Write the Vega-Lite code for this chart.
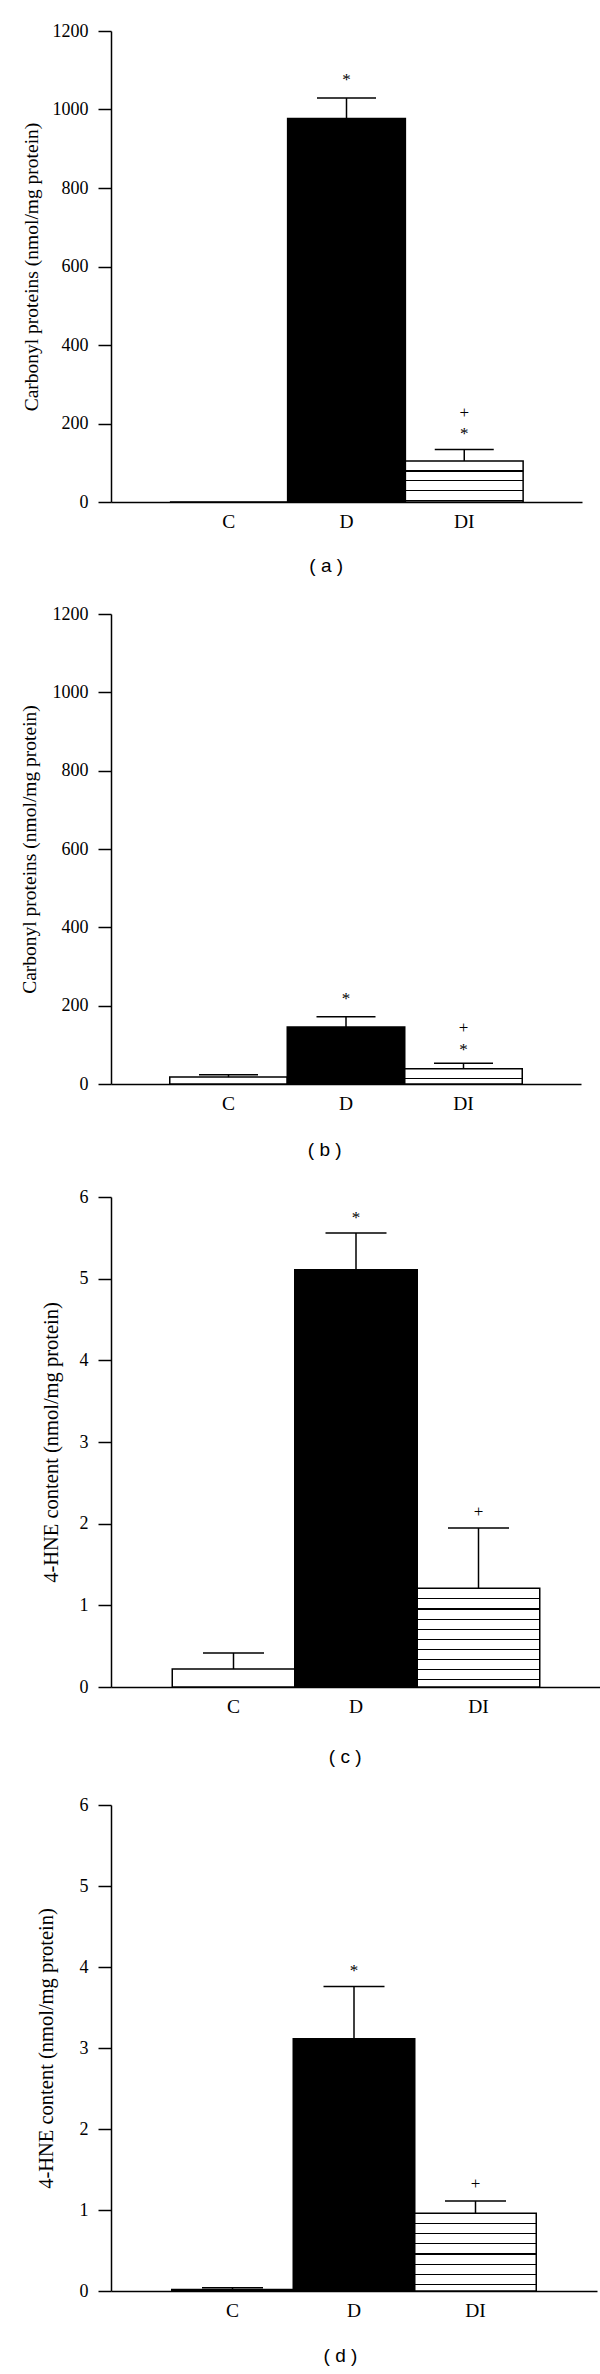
{
  "$schema": "https://vega.github.io/schema/vega-lite/v6.json",
  "padding": {"left": 19, "top": 22, "right": 20, "bottom": 4},
  "background": "white",
  "spacing": 29,
  "datasets": {
    "bars": [
      {"panel": "a", "group": "C", "value": 0, "upper": null},
      {"panel": "a", "group": "D", "value": 977, "upper": 1029},
      {"panel": "a", "group": "DI", "value": 104.5, "upper": 134},
      {"panel": "b", "group": "C", "value": 17.6, "upper": 23.5},
      {"panel": "b", "group": "D", "value": 145.6, "upper": 172},
      {"panel": "b", "group": "DI", "value": 39, "upper": 52.8},
      {"panel": "c", "group": "C", "value": 0.22, "upper": 0.417},
      {"panel": "c", "group": "D", "value": 5.11, "upper": 5.56},
      {"panel": "c", "group": "DI", "value": 1.21, "upper": 1.946},
      {"panel": "d", "group": "C", "value": 0.02, "upper": 0.04},
      {"panel": "d", "group": "D", "value": 3.115, "upper": 3.76},
      {"panel": "d", "group": "DI", "value": 0.96, "upper": 1.11}
    ],
    "marks": [
      {"panel": "a", "group": "D", "y": 1074, "sym": "*"},
      {"panel": "a", "group": "DI", "y": 228, "sym": "+"},
      {"panel": "a", "group": "DI", "y": 172, "sym": "*"},
      {"panel": "b", "group": "D", "y": 216, "sym": "*"},
      {"panel": "b", "group": "DI", "y": 142.5, "sym": "+"},
      {"panel": "b", "group": "DI", "y": 87, "sym": "*"},
      {"panel": "c", "group": "D", "y": 5.74, "sym": "*"},
      {"panel": "c", "group": "DI", "y": 2.137, "sym": "+"},
      {"panel": "d", "group": "D", "y": 3.956, "sym": "*"},
      {"panel": "d", "group": "DI", "y": 1.32, "sym": "+"}
    ]
  },
  "vconcat": [
    {
      "width": 471, "height": 471,
      "encoding": {
        "x": {"field": "group", "type": "nominal", "scale": {"domain": ["C", "D", "DI"], "paddingInner": 0, "paddingOuter": 0.5}, "axis": {"title": "( a )", "titleX": 214.7, "titlePadding": 26, "ticks": false, "labelAngle": 0, "labelPadding": 10, "labelFontSize": 19.5}}
      },
      "layer": [
        {
          "data": {"name": "bars"},
          "transform": [{"filter": "datum.panel === 'a' && datum.group !== 'DI'"}],
          "mark": {"type": "bar", "stroke": "black", "strokeWidth": 1.5},
          "encoding": {
            "y": {"field": "value", "type": "quantitative", "scale": {"domain": [0, 1200], "nice": false}, "axis": {"title": "Carbonyl proteins (nmol/mg protein)", "format": "d", "values": [0, 200, 400, 600, 800, 1000, 1200], "titlePadding": 10.8, "titleFontSize": 19.5}},
            "fill": {"condition": {"test": "datum.group === 'D'", "value": "black"}, "value": "white"}
          }
        },
        {
          "data": {"name": "bars"},
          "transform": [{"filter": "datum.panel === 'a' && datum.group === 'DI'"}],
          "mark": {"type": "bar", "stroke": "black", "strokeWidth": 1.5, "fill": {"gradient": "linear", "x1": 0, "y1": 0, "x2": 0, "y2": 1, "stops": [
            {"offset": 0, "color": "white"}, {"offset": 0.2276, "color": "white"}, {"offset": 0.2276, "color": "black"}, {"offset": 0.2567, "color": "black"}, {"offset": 0.2567, "color": "white"},
            {"offset": 0.4649, "color": "white"}, {"offset": 0.4649, "color": "black"}, {"offset": 0.4939, "color": "black"}, {"offset": 0.4939, "color": "white"},
            {"offset": 0.7022, "color": "white"}, {"offset": 0.7022, "color": "black"}, {"offset": 0.7312, "color": "black"}, {"offset": 0.7312, "color": "white"},
            {"offset": 0.9395, "color": "white"}, {"offset": 0.9395, "color": "black"}, {"offset": 0.9685, "color": "black"}, {"offset": 0.9685, "color": "white"},
            {"offset": 1, "color": "white"}]}},
          "encoding": {
            "y": {"field": "value", "type": "quantitative", "scale": {"domain": [0, 1200], "nice": false}, "axis": {"title": "Carbonyl proteins (nmol/mg protein)", "format": "d", "values": [0, 200, 400, 600, 800, 1000, 1200], "titlePadding": 10.8, "titleFontSize": 19.5}}
          }
        },
        {
          "data": {"name": "bars"},
          "transform": [{"filter": "datum.panel === 'a' && datum.upper != null"}],
          "mark": {"type": "rule", "strokeWidth": 1.5, "color": "black"},
          "encoding": {
            "y": {"field": "value", "type": "quantitative", "scale": {"domain": [0, 1200], "nice": false}, "axis": {"title": "Carbonyl proteins (nmol/mg protein)", "format": "d", "values": [0, 200, 400, 600, 800, 1000, 1200], "titlePadding": 10.8, "titleFontSize": 19.5}},
            "y2": {"field": "upper"}
          }
        },
        {
          "data": {"name": "bars"},
          "transform": [{"filter": "datum.panel === 'a' && datum.upper != null"}],
          "mark": {"type": "tick", "thickness": 1.5, "size": 59, "color": "black", "opacity": 1, "orient": "horizontal"},
          "encoding": {
            "y": {"field": "upper", "type": "quantitative", "scale": {"domain": [0, 1200], "nice": false}, "axis": {"title": "Carbonyl proteins (nmol/mg protein)", "format": "d", "values": [0, 200, 400, 600, 800, 1000, 1200], "titlePadding": 10.8, "titleFontSize": 19.5}}
          }
        },
        {
          "data": {"name": "marks"},
          "transform": [{"filter": "datum.panel === 'a'"}],
          "mark": {"type": "text", "font": "Liberation Serif", "fontSize": 17, "baseline": "middle", "align": "center", "color": "black"},
          "encoding": {
            "y": {"field": "y", "type": "quantitative", "scale": {"domain": [0, 1200], "nice": false}, "axis": {"title": "Carbonyl proteins (nmol/mg protein)", "format": "d", "values": [0, 200, 400, 600, 800, 1000, 1200], "titlePadding": 10.8, "titleFontSize": 19.5}},
            "text": {"field": "sym"}
          }
        }
      ]
    },
    {
      "width": 470, "height": 470,
      "encoding": {
        "x": {"field": "group", "type": "nominal", "scale": {"domain": ["C", "D", "DI"], "paddingInner": 0, "paddingOuter": 0.5}, "axis": {"title": "( b )", "titleX": 213.2, "titlePadding": 27.5, "ticks": false, "labelAngle": 0, "labelPadding": 10, "labelFontSize": 19.5}}
      },
      "layer": [
        {
          "data": {"name": "bars"},
          "transform": [{"filter": "datum.panel === 'b' && datum.group !== 'DI'"}],
          "mark": {"type": "bar", "stroke": "black", "strokeWidth": 1.5},
          "encoding": {
            "y": {"field": "value", "type": "quantitative", "scale": {"domain": [0, 1200], "nice": false}, "axis": {"title": "Carbonyl proteins (nmol/mg protein)", "format": "d", "values": [0, 200, 400, 600, 800, 1000, 1200], "titlePadding": 12.3, "titleFontSize": 19.5}},
            "fill": {"condition": {"test": "datum.group === 'D'", "value": "black"}, "value": "white"}
          }
        },
        {
          "data": {"name": "bars"},
          "transform": [{"filter": "datum.panel === 'b' && datum.group === 'DI'"}],
          "mark": {"type": "bar", "stroke": "black", "strokeWidth": 1.5, "fill": {"gradient": "linear", "x1": 0, "y1": 0, "x2": 0, "y2": 1, "stops": [
            {"offset": 0, "color": "white"}, {"offset": 0.5882, "color": "white"}, {"offset": 0.5882, "color": "black"}, {"offset": 0.6667, "color": "black"}, {"offset": 0.6667, "color": "white"},
            {"offset": 1, "color": "white"}]}},
          "encoding": {
            "y": {"field": "value", "type": "quantitative", "scale": {"domain": [0, 1200], "nice": false}, "axis": {"title": "Carbonyl proteins (nmol/mg protein)", "format": "d", "values": [0, 200, 400, 600, 800, 1000, 1200], "titlePadding": 12.3, "titleFontSize": 19.5}}
          }
        },
        {
          "data": {"name": "bars"},
          "transform": [{"filter": "datum.panel === 'b' && datum.upper != null"}],
          "mark": {"type": "rule", "strokeWidth": 1.5, "color": "black"},
          "encoding": {
            "y": {"field": "value", "type": "quantitative", "scale": {"domain": [0, 1200], "nice": false}, "axis": {"title": "Carbonyl proteins (nmol/mg protein)", "format": "d", "values": [0, 200, 400, 600, 800, 1000, 1200], "titlePadding": 12.3, "titleFontSize": 19.5}},
            "y2": {"field": "upper"}
          }
        },
        {
          "data": {"name": "bars"},
          "transform": [{"filter": "datum.panel === 'b' && datum.upper != null"}],
          "mark": {"type": "tick", "thickness": 1.5, "size": 59, "color": "black", "opacity": 1, "orient": "horizontal"},
          "encoding": {
            "y": {"field": "upper", "type": "quantitative", "scale": {"domain": [0, 1200], "nice": false}, "axis": {"title": "Carbonyl proteins (nmol/mg protein)", "format": "d", "values": [0, 200, 400, 600, 800, 1000, 1200], "titlePadding": 12.3, "titleFontSize": 19.5}}
          }
        },
        {
          "data": {"name": "marks"},
          "transform": [{"filter": "datum.panel === 'b'"}],
          "mark": {"type": "text", "font": "Liberation Serif", "fontSize": 17, "baseline": "middle", "align": "center", "color": "black"},
          "encoding": {
            "y": {"field": "y", "type": "quantitative", "scale": {"domain": [0, 1200], "nice": false}, "axis": {"title": "Carbonyl proteins (nmol/mg protein)", "format": "d", "values": [0, 200, 400, 600, 800, 1000, 1200], "titlePadding": 12.3, "titleFontSize": 19.5}},
            "text": {"field": "sym"}
          }
        }
      ]
    },
    {
      "width": 490, "height": 490,
      "encoding": {
        "x": {"field": "group", "type": "nominal", "scale": {"domain": ["C", "D", "DI"], "paddingInner": 0, "paddingOuter": 0.5}, "axis": {"title": "( c )", "titleX": 233.7, "titlePadding": 31.8, "ticks": false, "labelAngle": 0, "labelPadding": 10, "labelFontSize": 19.5}}
      },
      "layer": [
        {
          "data": {"name": "bars"},
          "transform": [{"filter": "datum.panel === 'c' && datum.group !== 'DI'"}],
          "mark": {"type": "bar", "stroke": "black", "strokeWidth": 1.5},
          "encoding": {
            "y": {"field": "value", "type": "quantitative", "scale": {"domain": [0, 6], "nice": false}, "axis": {"title": "4-HNE content (nmol/mg protein)", "values": [0, 1, 2, 3, 4, 5, 6], "titlePadding": 17.8, "titleFontSize": 20.5}},
            "fill": {"condition": {"test": "datum.group === 'D'", "value": "black"}, "value": "white"}
          }
        },
        {
          "data": {"name": "bars"},
          "transform": [{"filter": "datum.panel === 'c' && datum.group === 'DI'"}],
          "mark": {"type": "bar", "stroke": "black", "strokeWidth": 1.5, "fill": {"gradient": "linear", "x1": 0, "y1": 0, "x2": 0, "y2": 1, "stops": [
            {"offset": 0, "color": "white"},
            {"offset": 0.1022, "color": "white"}, {"offset": 0.1022, "color": "black"}, {"offset": 0.1144, "color": "black"}, {"offset": 0.1144, "color": "white"},
            {"offset": 0.2045, "color": "white"}, {"offset": 0.2045, "color": "black"}, {"offset": 0.2166, "color": "black"}, {"offset": 0.2166, "color": "white"},
            {"offset": 0.3077, "color": "white"}, {"offset": 0.3077, "color": "black"}, {"offset": 0.3198, "color": "black"}, {"offset": 0.3198, "color": "white"},
            {"offset": 0.4099, "color": "white"}, {"offset": 0.4099, "color": "black"}, {"offset": 0.4221, "color": "black"}, {"offset": 0.4221, "color": "white"},
            {"offset": 0.5121, "color": "white"}, {"offset": 0.5121, "color": "black"}, {"offset": 0.5243, "color": "black"}, {"offset": 0.5243, "color": "white"},
            {"offset": 0.6154, "color": "white"}, {"offset": 0.6154, "color": "black"}, {"offset": 0.6275, "color": "black"}, {"offset": 0.6275, "color": "white"},
            {"offset": 0.7176, "color": "white"}, {"offset": 0.7176, "color": "black"}, {"offset": 0.7298, "color": "black"}, {"offset": 0.7298, "color": "white"},
            {"offset": 0.8198, "color": "white"}, {"offset": 0.8198, "color": "black"}, {"offset": 0.8320, "color": "black"}, {"offset": 0.8320, "color": "white"},
            {"offset": 0.9221, "color": "white"}, {"offset": 0.9221, "color": "black"}, {"offset": 0.9342, "color": "black"}, {"offset": 0.9342, "color": "white"},
            {"offset": 1, "color": "white"}]}},
          "encoding": {
            "y": {"field": "value", "type": "quantitative", "scale": {"domain": [0, 6], "nice": false}, "axis": {"title": "4-HNE content (nmol/mg protein)", "values": [0, 1, 2, 3, 4, 5, 6], "titlePadding": 17.8, "titleFontSize": 20.5}}
          }
        },
        {
          "data": {"name": "bars"},
          "transform": [{"filter": "datum.panel === 'c' && datum.upper != null"}],
          "mark": {"type": "rule", "strokeWidth": 1.5, "color": "black"},
          "encoding": {
            "y": {"field": "value", "type": "quantitative", "scale": {"domain": [0, 6], "nice": false}, "axis": {"title": "4-HNE content (nmol/mg protein)", "values": [0, 1, 2, 3, 4, 5, 6], "titlePadding": 17.8, "titleFontSize": 20.5}},
            "y2": {"field": "upper"}
          }
        },
        {
          "data": {"name": "bars"},
          "transform": [{"filter": "datum.panel === 'c' && datum.upper != null"}],
          "mark": {"type": "tick", "thickness": 1.5, "size": 61, "color": "black", "opacity": 1, "orient": "horizontal"},
          "encoding": {
            "y": {"field": "upper", "type": "quantitative", "scale": {"domain": [0, 6], "nice": false}, "axis": {"title": "4-HNE content (nmol/mg protein)", "values": [0, 1, 2, 3, 4, 5, 6], "titlePadding": 17.8, "titleFontSize": 20.5}}
          }
        },
        {
          "data": {"name": "marks"},
          "transform": [{"filter": "datum.panel === 'c'"}],
          "mark": {"type": "text", "font": "Liberation Serif", "fontSize": 17, "baseline": "middle", "align": "center", "color": "black"},
          "encoding": {
            "y": {"field": "y", "type": "quantitative", "scale": {"domain": [0, 6], "nice": false}, "axis": {"title": "4-HNE content (nmol/mg protein)", "values": [0, 1, 2, 3, 4, 5, 6], "titlePadding": 17.8, "titleFontSize": 20.5}},
            "text": {"field": "sym"}
          }
        }
      ]
    },
    {
      "width": 486, "height": 486,
      "encoding": {
        "x": {"field": "group", "type": "nominal", "scale": {"domain": ["C", "D", "DI"], "paddingInner": 0, "paddingOuter": 0.5}, "axis": {"title": "( d )", "titleX": 229, "titlePadding": 27.3, "ticks": false, "labelAngle": 0, "labelPadding": 10, "labelFontSize": 19.5}}
      },
      "layer": [
        {
          "data": {"name": "bars"},
          "transform": [{"filter": "datum.panel === 'd' && datum.group !== 'DI'"}],
          "mark": {"type": "bar", "stroke": "black", "strokeWidth": 1.5},
          "encoding": {
            "y": {"field": "value", "type": "quantitative", "scale": {"domain": [0, 6], "nice": false}, "axis": {"title": "4-HNE content (nmol/mg protein)", "values": [0, 1, 2, 3, 4, 5, 6], "titlePadding": 22.5, "titleFontSize": 20.5}},
            "fill": {"condition": {"test": "datum.group === 'D'", "value": "black"}, "value": "white"}
          }
        },
        {
          "data": {"name": "bars"},
          "transform": [{"filter": "datum.panel === 'd' && datum.group === 'DI'"}],
          "mark": {"type": "bar", "stroke": "black", "strokeWidth": 1.5, "fill": {"gradient": "linear", "x1": 0, "y1": 0, "x2": 0, "y2": 1, "stops": [
            {"offset": 0, "color": "white"},
            {"offset": 0.1234, "color": "white"}, {"offset": 0.1234, "color": "black"}, {"offset": 0.1388, "color": "black"}, {"offset": 0.1388, "color": "white"},
            {"offset": 0.2545, "color": "white"}, {"offset": 0.2545, "color": "black"}, {"offset": 0.2699, "color": "black"}, {"offset": 0.2699, "color": "white"},
            {"offset": 0.3843, "color": "white"}, {"offset": 0.3843, "color": "black"}, {"offset": 0.3997, "color": "black"}, {"offset": 0.3997, "color": "white"},
            {"offset": 0.5154, "color": "white"}, {"offset": 0.5154, "color": "black"}, {"offset": 0.5308, "color": "black"}, {"offset": 0.5308, "color": "white"},
            {"offset": 0.6465, "color": "white"}, {"offset": 0.6465, "color": "black"}, {"offset": 0.6620, "color": "black"}, {"offset": 0.6620, "color": "white"},
            {"offset": 0.7763, "color": "white"}, {"offset": 0.7763, "color": "black"}, {"offset": 0.7918, "color": "black"}, {"offset": 0.7918, "color": "white"},
            {"offset": 0.9075, "color": "white"}, {"offset": 0.9075, "color": "black"}, {"offset": 0.9229, "color": "black"}, {"offset": 0.9229, "color": "white"},
            {"offset": 1, "color": "white"}]}},
          "encoding": {
            "y": {"field": "value", "type": "quantitative", "scale": {"domain": [0, 6], "nice": false}, "axis": {"title": "4-HNE content (nmol/mg protein)", "values": [0, 1, 2, 3, 4, 5, 6], "titlePadding": 22.5, "titleFontSize": 20.5}}
          }
        },
        {
          "data": {"name": "bars"},
          "transform": [{"filter": "datum.panel === 'd' && datum.upper != null"}],
          "mark": {"type": "rule", "strokeWidth": 1.5, "color": "black"},
          "encoding": {
            "y": {"field": "value", "type": "quantitative", "scale": {"domain": [0, 6], "nice": false}, "axis": {"title": "4-HNE content (nmol/mg protein)", "values": [0, 1, 2, 3, 4, 5, 6], "titlePadding": 22.5, "titleFontSize": 20.5}},
            "y2": {"field": "upper"}
          }
        },
        {
          "data": {"name": "bars"},
          "transform": [{"filter": "datum.panel === 'd' && datum.upper != null"}],
          "mark": {"type": "tick", "thickness": 1.5, "size": 61, "color": "black", "opacity": 1, "orient": "horizontal"},
          "encoding": {
            "y": {"field": "upper", "type": "quantitative", "scale": {"domain": [0, 6], "nice": false}, "axis": {"title": "4-HNE content (nmol/mg protein)", "values": [0, 1, 2, 3, 4, 5, 6], "titlePadding": 22.5, "titleFontSize": 20.5}}
          }
        },
        {
          "data": {"name": "marks"},
          "transform": [{"filter": "datum.panel === 'd'"}],
          "mark": {"type": "text", "font": "Liberation Serif", "fontSize": 17, "baseline": "middle", "align": "center", "color": "black"},
          "encoding": {
            "y": {"field": "y", "type": "quantitative", "scale": {"domain": [0, 6], "nice": false}, "axis": {"title": "4-HNE content (nmol/mg protein)", "values": [0, 1, 2, 3, 4, 5, 6], "titlePadding": 22.5, "titleFontSize": 20.5}},
            "text": {"field": "sym"}
          }
        }
      ]
    }
  ],
  "config": {
    "view": {"stroke": null},
    "axis": {
      "grid": false,
      "domainColor": "black", "domainWidth": 1.5,
      "tickColor": "black", "tickWidth": 1.5, "tickSize": 13,
      "labelPadding": 10, "labelFont": "Liberation Serif", "labelFontSize": 18, "labelColor": "black",
      "labelFlush": false, "labelOverlap": false,
      "titleFont": "Liberation Serif", "titleFontWeight": "normal", "titleColor": "black"
    },
    "axisX": {"titleFont": "Liberation Sans", "titleFontSize": 19, "titleFontWeight": "normal", "titleColor": "black"}
  }
}
